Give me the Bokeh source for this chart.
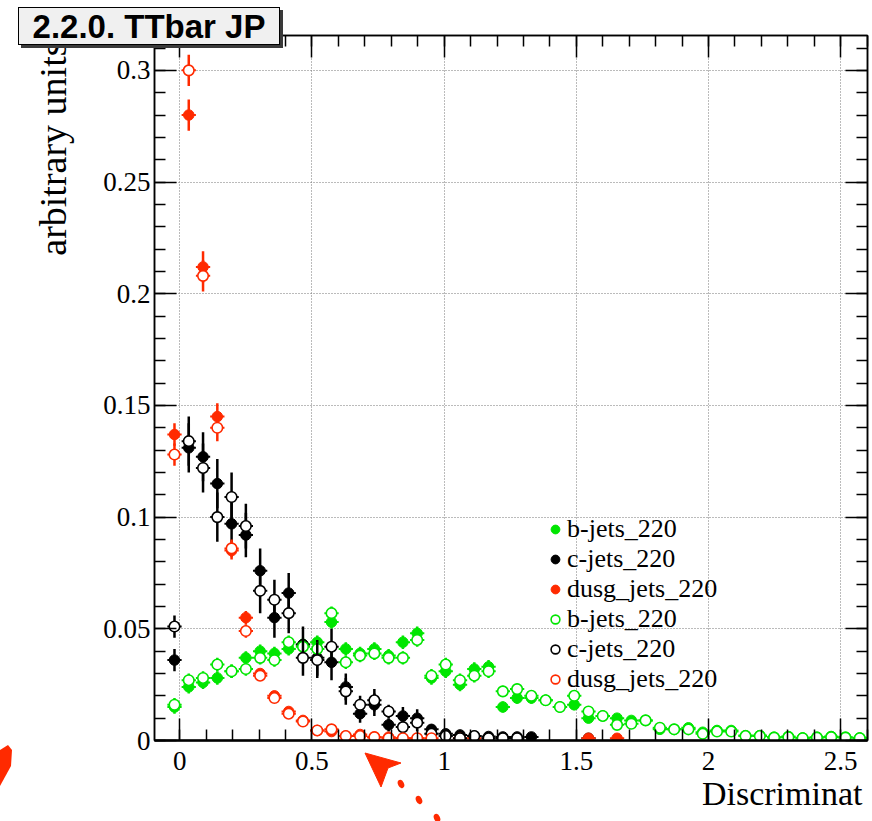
import numpy as np
from bokeh.plotting import figure
from bokeh.layouts import column
from bokeh.models import (Range1d, FixedTicker, CustomJSTickFormatter, LinearAxis,
                          Legend, LegendItem, ColumnDataSource, Title, Div)
from bokeh.embed import file_html
from bokeh.resources import INLINE

nan = float("nan")

# ---- data (bin centres of the discriminator histogram) ----
bin_centers = [-0.020, 0.034, 0.088, 0.142, 0.196, 0.250, 0.304, 0.358, 0.412, 0.466,
               0.520, 0.574, 0.628, 0.682, 0.736, 0.790, 0.844, 0.898, 0.952, 1.006,
               1.060, 1.114, 1.168, 1.222, 1.276, 1.330, 1.384, 1.438, 1.492, 1.546,
               1.600, 1.654, 1.708, 1.762, 1.816, 1.870, 1.924, 1.978, 2.032, 2.086,
               2.140, 2.194, 2.248, 2.302, 2.356, 2.410, 2.464, 2.518, 2.572]

b_jets_filled = [0.015, 0.024, 0.026, 0.028, 0.031, 0.037, 0.040, 0.039, 0.041, 0.043,
                 0.044, 0.053, 0.041, 0.039, 0.041, 0.038, 0.044, 0.048, 0.028, 0.031,
                 0.025, 0.032, 0.033, 0.015, 0.019, 0.019, 0.018, 0.015, 0.016, 0.010,
                 0.011, 0.010, 0.009, 0.009, 0.005, 0.005, 0.0057, 0.0037, 0.0045, 0.0045,
                 0.0022, 0.0022, 0.0015, 0.0018, 0.0012, 0.0015, 0.0018, 0.0015, 0.0012]
b_jets_open = [0.016, 0.027, 0.028, 0.034, 0.031, 0.032, 0.037, 0.036, 0.044, 0.042,
               0.041, 0.057, 0.035, 0.038, 0.039, 0.037, 0.037, 0.045, 0.029, 0.034,
               0.027, 0.029, 0.031, 0.022, 0.023, 0.020, 0.018, 0.015, 0.020, 0.013,
               0.011, 0.007, 0.0075, 0.009, 0.0057, 0.005, 0.005, 0.003, 0.004, 0.004,
               0.002, 0.002, 0.0013, 0.0015, 0.001, 0.0013, 0.0015, 0.0013, 0.001]
c_jets_filled = [0.036, 0.131, 0.127, 0.115, 0.097, 0.092, 0.076, 0.055, 0.066, 0.043,
                 0.037, 0.035, 0.024, 0.012, 0.016, 0.007, 0.011, 0.010, 0.005, 0.003,
                 0.0025, 0.002, 0.0018, 0.0016, 0.0016, 0.0016, nan, nan, nan, 0.001,
                 nan, nan, nan, nan, nan, nan, nan, nan, nan, nan,
                 nan, nan, nan, nan, nan, nan, nan, nan, nan]
c_jets_open = [0.051, 0.134, 0.122, 0.100, 0.109, 0.096, 0.067, 0.063, 0.057, 0.037,
               0.036, 0.042, 0.022, 0.016, 0.018, 0.013, 0.006, 0.008, 0.003, 0.002,
               0.001, 0.002, 0.001, 0.001, 0.001, nan, nan, nan, nan, nan,
               nan, nan, nan, nan, nan, nan, nan, nan, nan, nan,
               nan, nan, nan, nan, nan, nan, nan, nan, nan]
dusg_filled = [0.137, 0.280, 0.212, 0.145, 0.085, 0.055, 0.030, 0.020, 0.013, 0.009,
               0.0045, 0.004, 0.002, 0.0027, 0.0015, 0.0015, 0.001, 0.001, nan, nan,
               0.001, 0.001, nan, nan, nan, nan, nan, nan, nan, 0.001,
               nan, 0.001, nan, nan, nan, nan, nan, nan, nan, nan,
               nan, nan, nan, nan, nan, nan, nan, nan, nan]
dusg_open = [0.128, 0.300, 0.208, 0.140, 0.086, 0.049, 0.029, 0.019, 0.012, 0.0085,
             0.0045, 0.005, 0.002, 0.002, 0.0015, 0.001, 0.001, 0.001, 0.001, nan,
             nan, nan, nan, nan, nan, nan, nan, nan, nan, nan,
             nan, nan, nan, nan, nan, nan, nan, nan, nan, nan,
             nan, nan, nan, nan, nan, nan, nan, nan, nan]

# statistical errors
b_err = [0.003, 0.003, 0.003, 0.003, 0.003, 0.003, 0.003, 0.003, 0.003, 0.003,
         0.003, 0.003, 0.003, 0.003, 0.003, 0.003, 0.003, 0.003, 0.003, 0.003,
         0.003, 0.003, 0.003, 0.0025, 0.0025, 0.0025, 0.0025, 0.0025, 0.0025, 0.002,
         0.002, 0.002, 0.002, 0.002, 0.0015, 0.0015, 0.0015, 0.0012, 0.0012, 0.0012,
         0.001, 0.001, 0.0008, 0.0008, 0.0008, 0.0008, 0.0008, 0.0008, 0.0008]
c_err = [0.005, 0.011, 0.011, 0.011, 0.011, 0.010, 0.010, 0.009, 0.009, 0.008,
         0.008, 0.008, 0.006, 0.004, 0.005, 0.003, 0.004, 0.004, 0.002, 0.0015,
         0.0015, 0.001, 0.001, 0.001, 0.001, 0.001, 0.001, 0.001, 0.001, 0.001,
         0.001, 0.001, 0.001, 0.001, 0.001, 0.001, 0.001, 0.001, 0.001, 0.001,
         0.001, 0.001, 0.001, 0.001, 0.001, 0.001, 0.001, 0.001, 0.001]
dusg_err = [0.005, 0.007, 0.007, 0.006, 0.004, 0.003, 0.002, 0.002, 0.0015, 0.0012,
            0.001, 0.001, 0.0008, 0.0008, 0.0008, 0.0008, 0.0008, 0.0008, 0.0008, 0.0008,
            0.0008, 0.0008, 0.0008, 0.0008, 0.0008, 0.0008, 0.0008, 0.0008, 0.0008, 0.0008,
            0.0008, 0.0008, 0.0008, 0.0008, 0.0008, 0.0008, 0.0008, 0.0008, 0.0008, 0.0008,
            0.0008, 0.0008, 0.0008, 0.0008, 0.0008, 0.0008, 0.0008, 0.0008, 0.0008]
half_bin = 0.027

x_major_ticks = [0, 0.5, 1, 1.5, 2, 2.5]
y_major_ticks = [0, 0.05, 0.1, 0.15, 0.2, 0.25, 0.3]
x_minor_ticks = [round(0.1 * i, 2) for i in range(-1, 27)]
y_minor_ticks = [round(0.01 * i, 3) for i in range(0, 32)]

series_labels = ["b-jets_220", "c-jets_220", "dusg_jets_220",
                 "b-jets_220", "c-jets_220", "dusg_jets_220"]
title_text = "2.2.0. TTbar JP"
x_title = "Discriminat"
y_title = "arbitrary units"

GREEN = "#00e600"
BLACK = "#000000"
RED = "#ff2a00"
SERIF = "Liberation Serif"
W, H = 872, 821

p = figure(width=W, height=H, output_backend="svg", toolbar_location=None,
           x_range=Range1d(-0.0956, 2.6013), y_range=Range1d(0, 0.3156),
           min_border_left=154, min_border_right=5, min_border_top=35, min_border_bottom=81,
           background_fill_color="white", border_fill_color="white")
p.outline_line_color = "black"
p.outline_line_width = 1.5

fmt = CustomJSTickFormatter(code="""
    let s = tick.toFixed(2);
    s = s.replace(/0+$/, '').replace(/\\.$/, '');
    return s;
""")
blank = CustomJSTickFormatter(code="return '';")

xt = FixedTicker(ticks=x_major_ticks, minor_ticks=x_minor_ticks)
yt = FixedTicker(ticks=y_major_ticks, minor_ticks=y_minor_ticks)


def style_axis(ax, labels=True):
    ax.major_tick_in = 22
    ax.major_tick_out = 0
    ax.minor_tick_in = 11
    ax.minor_tick_out = 0
    ax.major_tick_line_width = 1.5
    ax.minor_tick_line_width = 1.5
    ax.major_tick_line_color = "black"
    ax.minor_tick_line_color = "black"
    ax.axis_line_color = "black"
    ax.axis_line_width = 1.5
    ax.major_label_text_font = SERIF
    ax.major_label_text_font_size = "27px"
    ax.major_label_text_color = "black"
    if not labels:
        ax.formatter = blank
        ax.major_label_standoff = 0
        ax.major_label_text_font_size = "0px"


xa = p.xaxis[0]
xa.ticker = xt
xa.formatter = fmt
style_axis(xa)
xa.axis_line_width = 2.5
xa.major_label_standoff = 11

ya = p.yaxis[0]
ya.ticker = yt
ya.formatter = fmt
style_axis(ya)
ya.major_label_standoff = 4

top = LinearAxis(ticker=xt)
style_axis(top, labels=False)
p.add_layout(top, "above")
right = LinearAxis(ticker=yt)
style_axis(right, labels=False)
p.add_layout(right, "right")

# axis titles (right / top aligned as in the original)
p.add_layout(Title(text=x_title, align="right", offset=5, standoff=0,
                   text_font=SERIF, text_font_style="normal", text_font_size="34px",
                   text_color="black"), "below")
p.add_layout(Title(text=y_title, align="right", offset=6, standoff=54,
                   text_font=SERIF, text_font_style="normal", text_font_size="38px",
                   text_color="black"), "left")

for g in (p.xgrid, p.ygrid):
    g.grid_line_color = "#777777"
    g.grid_line_dash = "1 2"
    g.grid_line_width = 1

xs = np.array(bin_centers, dtype=float)


def draw(values, errors, color, filled):
    y = np.array(values, dtype=float)
    e = np.array(errors, dtype=float)
    m = ~np.isnan(y)
    src = ColumnDataSource(dict(x=xs[m], y=y[m], lo=y[m] - e[m], hi=y[m] + e[m],
                                xl=xs[m] - half_bin, xr=xs[m] + half_bin))
    p.segment("x", "lo", "x", "hi", source=src, line_color=color, line_width=2.5)
    p.segment("xl", "y", "xr", "y", source=src, line_color=color, line_width=2)
    if filled:
        r = p.scatter("x", "y", source=src, marker="circle", size=10.5,
                      fill_color=color, line_color=color, line_width=1)
    else:
        r = p.scatter("x", "y", source=src, marker="circle", size=10.5,
                      fill_color="white", line_color=color, line_width=1.6)
    return r


r1 = draw(b_jets_filled, b_err, GREEN, True)
r2 = draw(c_jets_filled, c_err, BLACK, True)
r3 = draw(dusg_filled, dusg_err, RED, True)
r4 = draw(b_jets_open, b_err, GREEN, False)
r5 = draw(c_jets_open, c_err, BLACK, False)
r6 = draw(dusg_open, dusg_err, RED, False)

legend = Legend(items=[LegendItem(label=lab, renderers=[r])
                       for lab, r in zip(series_labels, [r1, r2, r3, r4, r5, r6])],
                location=(390, 46), orientation="vertical",
                background_fill_alpha=0, border_line_alpha=0,
                padding=0, margin=0, spacing=0,
                glyph_width=22, glyph_height=28, label_height=28, label_standoff=1,
                label_text_font=SERIF, label_text_font_size="26px", label_text_color="black")
p.add_layout(legend)

# ---- overlay: title box and the red pen marks of the original picture ----
overlay_html = f"""
<div style="position:relative;width:{W}px;height:{H}px;pointer-events:none;">
  <div style="position:absolute;left:18px;top:7px;width:262px;height:38px;background:#f0f0f0;
       border:1.5px solid #000;box-shadow:3px 3px 0 #3a3a3a;font-family:'Liberation Sans',Arial,sans-serif;
       font-weight:bold;font-size:33px;line-height:38px;text-align:center;color:#000;white-space:nowrap;">{title_text}</div>
  <svg width="{W}" height="{H}" style="position:absolute;left:0;top:0;">
    <polygon points="365,753 401,763 388,768 381,787" fill="{RED}" stroke="{RED}" stroke-width="1"/>
    <ellipse cx="401" cy="784" rx="3" ry="4.3" fill="{RED}" transform="rotate(-25 401 784)"/>
    <ellipse cx="419" cy="800" rx="3" ry="4.3" fill="{RED}" transform="rotate(-25 419 800)"/>
    <ellipse cx="437" cy="818" rx="3" ry="4.3" fill="{RED}" transform="rotate(-25 437 818)"/>
    <polygon points="0,750 8,745 12,750 11,766 0,786" fill="{RED}"/>
  </svg>
</div>"""
ov = Div(text=overlay_html, width=W, height=H, margin=(-H, 0, 0, 0),
         styles={"position": "relative", "z-index": "10", "pointer-events": "none"})

layout = column(p, ov, spacing=0)
open("out.html", "w").write(file_html(layout, INLINE))
